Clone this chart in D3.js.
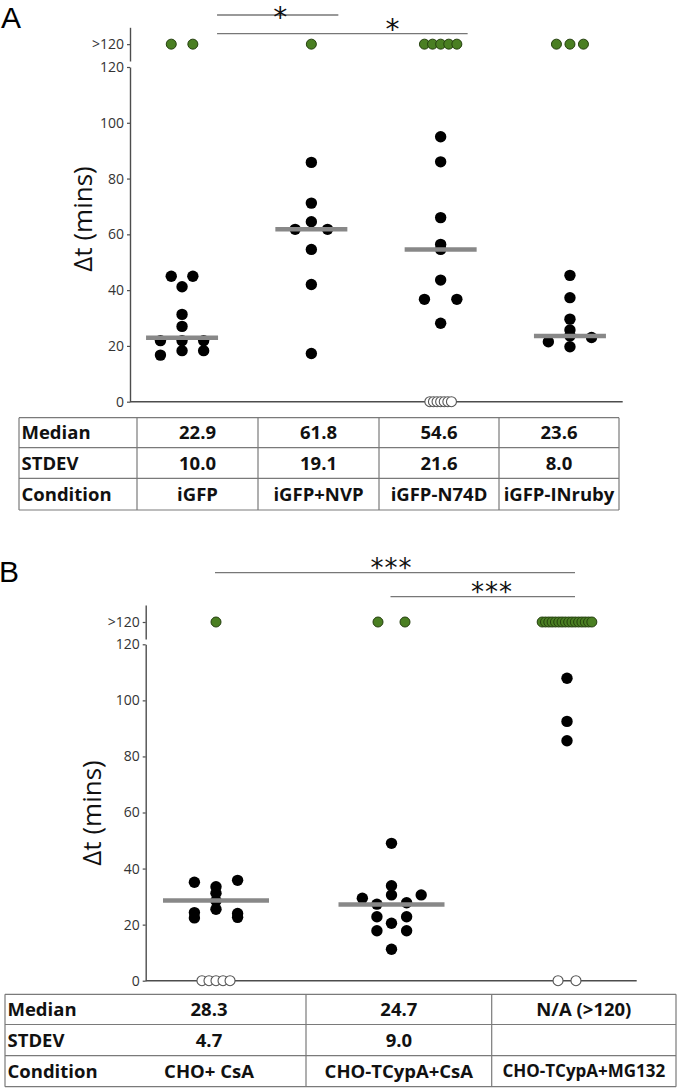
<!DOCTYPE html>
<html><head><meta charset="utf-8">
<script src="https://cdn.jsdelivr.net/npm/d3@7"></script>
<style>body{margin:0;background:#fff}svg{display:block}</style>
</head><body>
<svg id="chart" width="680" height="1090"></svg>
<script>
// ================= DATA =================
const yTicks = [0, 20, 40, 60, 80, 100, 120];
const overflowLabel = ">120";
const rowLabels = ["Median", "STDEV", "Condition"];

// ---- Panel A ----
const conditionsA = ["iGFP", "iGFP+NVP", "iGFP-N74D", "iGFP-INruby"];
const medianTextA = ["22.9", "61.8", "54.6", "23.6"];
const stdevTextA = ["10.0", "19.1", "21.6", "8.0"];
const medianBarA = [22.9, 61.8, 54.6, 23.6];
// points: [minutes, swarm slot]
const pointsA_iGFP = [[45, -1], [45, 1], [41.2, 0], [31.3, 0], [27, 0], [21.9, -2], [21.9, 0], [21.9, 2], [18.3, 0], [18.3, 2], [16.7, -2]];
const pointsA_NVP = [[85.8, 0], [71.2, 0], [64.5, 0], [61.8, -1.5], [61.8, 1.5], [54.6, 0], [42, 0], [17.3, 0]];
const pointsA_N74D = [[95, 0], [86, 0], [66, 0], [56.4, 0], [54.6, 0], [43.6, 0], [36.7, -1.5], [36.7, 1.5], [28.1, 0]];
const pointsA_INruby = [[45.3, 0], [37.3, 0], [29.6, 0], [25.7, 0], [23.6, 0], [23, 2], [21.5, -2], [19.7, 0]];
const overflowSlotsA = [[-1, 1], [0], [-1.5, -0.75, 0, 0.75, 1.5], [-1.25, 0, 1.25]];
const zeroSlotsA = [[], [], [-1, -0.667, -0.333, 0, 0.333, 0.667, 1], []];
// [from group, to group, label, label position along bar]
const bracketsA = [[0, 1, "*", 0.52], [0, 2, "*", 0.70]];

// ---- Panel B ----
const conditionsB = ["CHO+ CsA", "CHO-TCypA+CsA", "CHO-TCypA+MG132"];
const medianTextB = ["28.3", "24.7", "N/A (>120)"];
const stdevTextB = ["4.7", "9.0", ""];
const medianBarB = [28.6, 27.2, null];
const pointsB_CsA = [[35.1, -2], [35.8, 2], [33.5, 0], [31.2, 0], [28.5, 0], [25.5, 0], [24.3, -2], [24, 2], [22.4, -2], [22.6, 2]];
const pointsB_TCypA = [[49, 0], [33.9, 0], [30.6, 0], [29.4, -2.7], [30.6, 2.75], [27.3, -1.35], [27.8, 1.4], [22.8, -1.35], [22.8, 1.4], [20.5, 0], [17.8, -1.35], [17.8, 1.4], [11.2, 0]];
const pointsB_MG132 = [[107.9, 0], [92.5, 0], [85.6, 0]];
const overflowSlotsB = [[0], [-1.25, 1.25], d3.range(16).map(i => -2.3 + i * 4.6 / 15)];
const zeroSlotsB = [[-1.3, -0.65, 0, 0.65, 1.3], [], [-0.83, 0.83]];
const bracketsB = [[0, 2, "***", 0.49], [1, 2, "***", 0.55]];

// ================= DRAWING =================
const svg = d3.select("#chart");
const GREEN = "#4a7f22", GREEN_STROKE = "#25400f";
const AXIS = "#4d4d4d";
const TICKFONT = "'Open Sans', sans-serif";

function drawPanel(o) {
  const g = svg.append("g");
  const x = d3.scaleBand().domain(o.groups).range(o.xRange);
  const cx = i => x(o.groups[i]) + x.bandwidth() / 2;
  const slot = d3.scaleLinear().domain([-1, 1]).range([-o.step, o.step]);
  const y = d3.scaleLinear().domain([0, 120]).range([o.y0, o.y120]);
  const yOver = d3.scaleLinear().domain([0, 1]).range([o.breakBottom, o.breakTop]);

  // main y axis
  const ax = g.append("g").attr("transform", `translate(${o.axisX},0)`)
    .call(d3.axisLeft(y).tickValues(yTicks).tickSize(3).tickSizeOuter(0).tickPadding(3));
  // overflow axis segment
  const ax2 = g.append("g").attr("transform", `translate(${o.axisX},0)`)
    .call(d3.axisLeft(yOver).tickValues([0.5]).tickFormat(() => overflowLabel).tickSize(3).tickSizeOuter(0).tickPadding(3));
  [ax, ax2].forEach(a => {
    a.selectAll("path.domain").attr("stroke", AXIS).attr("stroke-width", 1.4);
    a.selectAll(".tick line").attr("stroke", AXIS).attr("stroke-width", 1.2);
    a.selectAll(".tick text").attr("font-family", TICKFONT).attr("font-size", 14).attr("fill", "#333");
  });

  // x baseline
  g.append("line").attr("x1", o.axisX).attr("x2", o.axisEnd)
    .attr("y1", y(0)).attr("y2", y(0)).attr("stroke", AXIS).attr("stroke-width", 1.4);

  // y label
  g.append("text").attr("transform", `translate(${o.ylabX},${o.ylabY}) rotate(-90)`)
    .attr("text-anchor", "middle").attr("font-family", "'Open Sans', sans-serif")
    .attr("font-size", 26).attr("fill", "#111").text("Δt (mins)");

  // panel letter
  g.append("text").attr("x", o.letterX).attr("y", o.letterY)
    .attr("font-family", "'Liberation Sans', Arial, sans-serif").attr("font-size", 30)
    .attr("fill", "#000").text(o.letter);

  // zero (open) circles
  o.zeros.forEach((arr, i) => {
    g.selectAll(null).data(arr).join("circle")
      .attr("cx", s => cx(i) + slot(s)).attr("cy", y(0)).attr("r", 5)
      .attr("fill", "#fff").attr("stroke", "#555").attr("stroke-width", 1.1);
  });

  // black points
  o.points.forEach((arr, i) => {
    g.selectAll(null).data(arr).join("circle")
      .attr("cx", d => cx(i) + slot(d[1])).attr("cy", d => y(d[0])).attr("r", 5.7)
      .attr("fill", "#000");
  });

  // median bars
  o.medians.forEach((m, i) => {
    if (m == null) return;
    g.append("line").attr("x1", cx(i) - o.medHalf).attr("x2", cx(i) + o.medHalf)
      .attr("y1", y(m)).attr("y2", y(m)).attr("stroke", "#888").attr("stroke-width", 4.5);
  });

  // overflow (>120) green circles
  o.overflow.forEach((arr, i) => {
    g.selectAll(null).data(arr).join("circle")
      .attr("cx", s => cx(i) + slot(s)).attr("cy", yOver(0.5)).attr("r", 5)
      .attr("fill", GREEN).attr("stroke", GREEN_STROKE).attr("stroke-width", 1);
  });

  // significance brackets
  o.brackets.forEach((b, k) => {
    const x1 = cx(b[0]) + o.brStart, x2 = cx(b[1]) + o.brEnd, yy = o.brY[k];
    g.append("line").attr("x1", x1).attr("x2", x2).attr("y1", yy).attr("y2", yy)
      .attr("stroke", "#777").attr("stroke-width", 1.3);
    g.append("text").attr("x", x1 + (x2 - x1) * b[3]).attr("y", yy + o.starDy[k])
      .attr("text-anchor", "middle").attr("font-family", "'DejaVu Sans', sans-serif")
      .attr("font-size", o.starSize).attr("letter-spacing", o.starSpacing).attr("fill", "#111").text(b[2]);
  });
}

function drawTable(t) {
  const g = svg.append("g");
  const stroke = "#7a7a7a";
  const xL = t.cols[0], xR = t.cols[t.cols.length - 1];
  t.rows.forEach(r => g.append("line").attr("x1", xL).attr("x2", xR).attr("y1", r).attr("y2", r)
    .attr("stroke", stroke).attr("stroke-width", 1.2));
  t.vlines.forEach(c => g.append("line").attr("x1", c).attr("x2", c)
    .attr("y1", t.rows[0]).attr("y2", t.rows[t.rows.length - 1]).attr("stroke", stroke).attr("stroke-width", 1.2));
  t.cells.forEach((row, ri) => {
    const yc = (t.rows[ri] + t.rows[ri + 1]) / 2;
    row.forEach((txt, ci) => {
      const fs = (t.small && t.small[0] === ri && t.small[1] === ci) ? 17 : 18.5;
      const first = ci === 0;
      g.append("text")
        .attr("x", first ? t.cols[0] + 2.5 : (t.cols[ci] + t.cols[ci + 1]) / 2)
        .attr("y", yc + fs * 0.36)
        .attr("text-anchor", first ? "start" : "middle")
        .attr("font-family", "'Open Sans', sans-serif").attr("font-weight", 700)
        .attr("font-size", fs).attr("fill", "#111").text(txt);
    });
  });
}

// Panel A
drawPanel({
  letter: "A", letterX: 1, letterY: 27.5,
  groups: conditionsA, xRange: [117.4, 634.6], step: 10.8,
  y0: 401.7, y120: 67, breakTop: 27.3, breakBottom: 61, axisX: 130, axisEnd: 622.7,
  ylabX: 92, ylabY: 219,
  points: [pointsA_iGFP, pointsA_NVP, pointsA_N74D, pointsA_INruby],
  overflow: overflowSlotsA, zeros: zeroSlotsA, medians: medianBarA, medHalf: 36,
  brackets: bracketsA, brY: [15, 33.7], brStart: 35, brEnd: 27,
  starDy: [11.5, 5], starSize: 28, starSpacing: 0
});
drawTable({
  cols: [19, 137, 258, 379, 499, 619], vlines: [19, 137, 258, 379, 499, 619],
  rows: [417.7, 447.7, 478.3, 510],
  cells: [[rowLabels[0], ...medianTextA], [rowLabels[1], ...stdevTextA], [rowLabels[2], ...conditionsA]]
});

// Panel B
drawPanel({
  letter: "B", letterX: -1, letterY: 582,
  groups: conditionsB, xRange: [128.25, 654.75], step: 10.8,
  y0: 980.7, y120: 644.3, breakTop: 605, breakBottom: 639, axisX: 145.7, axisEnd: 636.7,
  ylabX: 101, ylabY: 813,
  points: [pointsB_CsA, pointsB_TCypA, pointsB_MG132],
  overflow: overflowSlotsB, zeros: zeroSlotsB, medians: medianBarB, medHalf: 53,
  brackets: bracketsB, brY: [572.7, 596.7], brStart: -1, brEnd: 8,
  starDy: [4, 4], starSize: 26, starSpacing: 1
});
drawTable({
  cols: [5, 112, 306, 491.7, 676], vlines: [5, 306, 491.7, 676],
  rows: [994.3, 1024.5, 1055.7, 1086.7],
  cells: [[rowLabels[0], ...medianTextB], [rowLabels[1], ...stdevTextB], [rowLabels[2], ...conditionsB]],
  small: [2, 3]
});
</script>
</body></html>
